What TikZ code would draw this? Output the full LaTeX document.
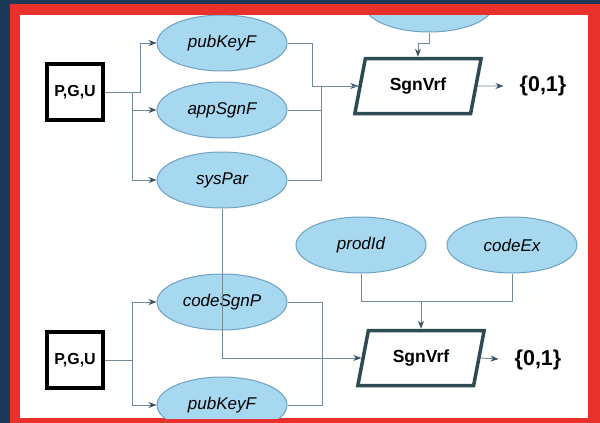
\documentclass[tikz,border=0pt]{standalone}
\usepackage{fontspec}
\setmainfont{Liberation Sans}
\usepackage{xcolor}
\usepackage{tikz}
\usetikzlibrary{arrows.meta,shapes.geometric}
\definecolor{navyback}{RGB}{27,58,87}
\definecolor{redframe}{RGB}{232,49,42}
\definecolor{elfill}{RGB}{166,216,240}
\definecolor{eldraw}{RGB}{110,160,195}
\definecolor{linkgray}{RGB}{115,138,150}
\definecolor{tipgray}{RGB}{55,82,95}
\definecolor{slate}{RGB}{45,75,82}

\begin{document}
\begin{tikzpicture}[x=1pt,y=-1pt]
\tikzstyle{every node}+=[inner sep=0pt]
\tikzstyle{fieldnode}=[ellipse, fill=elfill, draw=eldraw, line width=1pt, minimum width=130pt, minimum height=56pt, text=black, font=\fontsize{17}{20}\selectfont\itshape]
\tikzstyle{inbox}=[rectangle, draw=black, line width=4pt, minimum size=56pt, font=\fontsize{16}{19}\selectfont\bfseries]
\tikzstyle{vrfbox}=[trapezium, trapezium left angle=71, trapezium right angle=109, trapezium stretches=true, draw=slate, line width=3.5pt, minimum width=127pt, minimum height=55pt, font=\fontsize{17.5}{20}\selectfont\bfseries]
\tikzstyle{outtext}=[font=\fontsize{21.5}{24}\selectfont\bfseries]
\tikzstyle{link}=[draw=linkgray, line width=0.9pt]
\tikzstyle{linkarr}=[link, -{Stealth[length=8pt,width=6pt,color=tipgray]}]
\useasboundingbox (0,0) rectangle (600,423);
\fill [navyback] (0,0) rectangle (600,423);
\fill [redframe] (10,4) rectangle (600,423);
\fill [white] (20,15) rectangle (588,418);
\begin{scope}
\clip (20,15) rectangle (588,418);
\node [inbox] (pgu1) at (75,92) {P,G,U};
\node [fieldnode] (pubkey1) at (222,43) {pubKeyF};
\node [fieldnode] (appsgn1) at (222,110) {appSgnF};
\node [fieldnode] (syspar1) at (222,180) {sysPar};
\node [fieldnode] (hidden1) at (429,4) {};
\node [vrfbox] (sgn1) at (418,86) {SgnVrf};
\node [outtext] (out1) at (543,86) {\{0,1\}};
\node [inbox] (pgu2) at (75,360) {P,G,U};
\node [fieldnode] (codesgn) at (222,302) {codeSgnP};
\node [fieldnode] (pubkey2) at (222,405) {pubKeyF};
\node [fieldnode] (prodid) at (361,245) {prodId};
\node [fieldnode] (codeex) at (512,245) {codeEx};
\node [vrfbox] (sgn2) at (421,358) {SgnVrf};
\node [outtext] (out2) at (538,360) {\{0,1\}};
\draw [linkarr] (pgu1.east) -- ++(35,0) |- (pubkey1.west);
\draw [linkarr] (pgu1.east) ++(27,0) |- (appsgn1.west);
\draw [linkarr] (pgu1.east) ++(27,0) |- (syspar1.west);
\draw [linkarr] (pubkey1.east) -- ++(25,0) |- (sgn1.west);
\draw [link] (appsgn1.east) -- ++(34,0);
\draw [link] (syspar1.east) -- ++(34,0) |- (sgn1.west);
\draw [linkarr] (hidden1.south) -- ++(0,11) -| (sgn1.north);
\draw [linkarr, shorten >=16pt] (sgn1.east) -- (out1.west);
\draw [linkarr] (syspar1.south) |- (sgn2.west);
\draw [link] (codesgn.east) -- ++(35,0) |- (pubkey2.east);
\draw [linkarr] (pgu2.east) -- ++(27,0) |- (codesgn.west);
\draw [linkarr] (pgu2.east) ++(27,0) |- (pubkey2.west);
\draw [link] (prodid.south) -- ++(0,28) -| (codeex.south);
\draw [linkarr] (prodid.south) ++(0,28) -| (sgn2.north);
\draw [linkarr, shorten >=16pt] (sgn2.east) -- (out2.west);
\end{scope}
\end{tikzpicture}
\end{document}
